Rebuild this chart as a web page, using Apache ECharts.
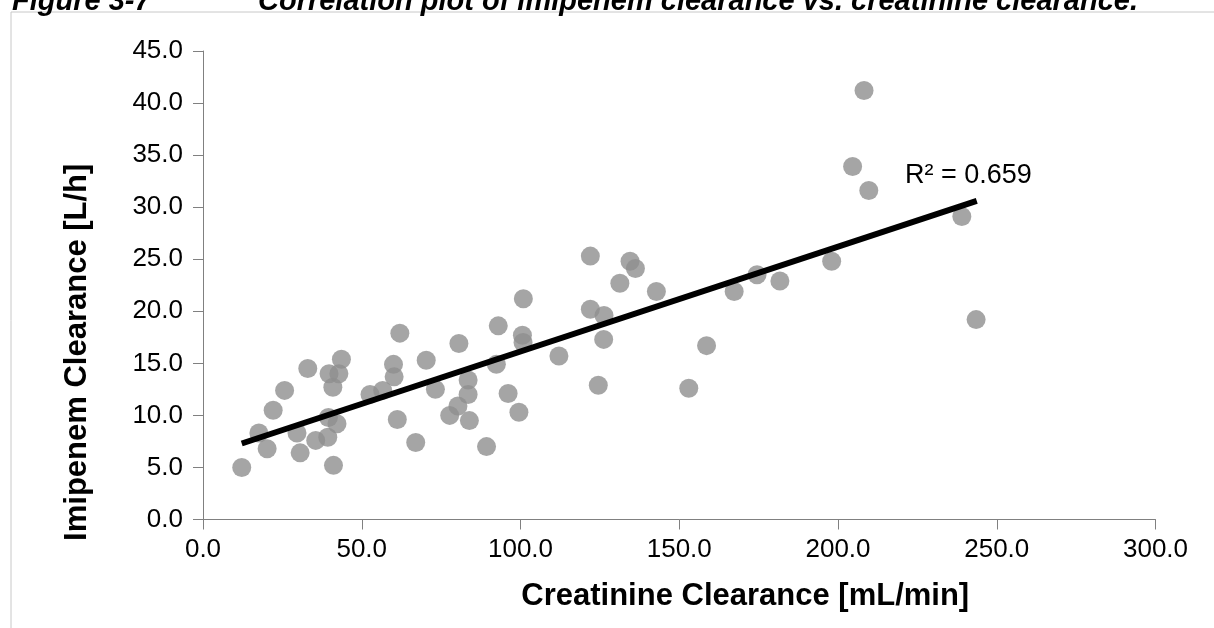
<!DOCTYPE html>
<html>
<head>
<meta charset="utf-8">
<script src="https://cdn.jsdelivr.net/npm/echarts@6/dist/echarts.min.js"></script>
<style>
html,body{margin:0;padding:0;background:#fff;}
#chart{width:1214px;height:628px;}
</style>
</head>
<body>
<div id="chart"></div>
<script>
// Creatinine clearance [mL/min]
const crcl = [12.2,17.6,20.2,22.1,25.7,29.6,30.6,33.0,35.5,39.3,39.7,39.5,40.9,41.1,42.2,42.8,43.6,
  52.6,56.6,60.0,60.2,61.2,62.0,67.0,70.3,73.2,77.7,80.6,80.3,83.5,83.5,83.9,89.3,92.4,93.0,96.1,99.5,
  100.6,100.8,100.9,112.1,122.0,134.5,136.2,131.3,142.8,122.0,126.3,126.2,124.5,153.0,158.6,167.3,
  174.5,181.7,198.0,208.2,204.6,209.7,239.0,243.5];
// Imipenem clearance [L/h]
const imcl = [5.0,8.3,6.8,10.5,12.4,8.3,6.4,14.5,7.6,7.9,14.0,9.8,12.7,5.2,9.2,14.0,15.4,
  12.0,12.4,14.9,13.7,9.6,17.9,7.4,15.3,12.5,10.0,16.9,10.9,13.4,12.0,9.5,7.0,14.9,18.6,12.1,10.3,
  17.7,17.0,21.2,15.7,25.3,24.8,24.1,22.7,21.9,20.2,19.6,17.3,12.9,12.6,16.7,21.9,
  23.5,22.9,24.8,41.2,33.9,31.6,29.1,19.2];
// Linear trend line end points (as drawn)
const trendX = [12.2, 243.7];
const trendY = [7.3, 30.6];
const r2Text = 'R² = 0.659';
const titleFig = 'Figure 3-7';
const titleText = 'Correlation plot of imipenem clearance vs. creatinine clearance.';
const xName = 'Creatinine Clearance [mL/min]';
const yName = 'Imipenem Clearance [L/h]';

const points = crcl.map((x, i) => [x, imcl[i]]);
const trend = trendX.map((x, i) => [x, trendY[i]]);

const chart = echarts.init(document.getElementById('chart'), null, {renderer: 'canvas'});
const FONT = '"Liberation Sans", Arial, sans-serif';
chart.setOption({
  animation: false,
  backgroundColor: '#ffffff',
  grid: {left: 203, right: 58.5, top: 51, bottom: 108.5},
  xAxis: {
    type: 'value', min: 0, max: 300, interval: 50,
    name: xName, nameLocation: 'middle', nameGap: 61,
    nameTextStyle: {fontFamily: FONT, fontSize: 31, fontWeight: 'bold', color: '#000', padding: [0, 0, 0, 132]},
    axisLine: {show: true, lineStyle: {color: '#808080', width: 1}},
    axisTick: {show: true, length: 10, lineStyle: {color: '#808080'}},
    splitLine: {show: false},
    axisLabel: {fontFamily: FONT, fontSize: 26, color: '#000', margin: 17, formatter: v => v.toFixed(1)}
  },
  yAxis: {
    type: 'value', min: 0, max: 45, interval: 5,
    name: yName, nameLocation: 'middle', nameGap: 110, nameRotate: 90,
    nameTextStyle: {fontFamily: FONT, fontSize: 31, fontWeight: 'bold', color: '#000', padding: [0, 134, 0, 0]},
    axisLine: {show: true, lineStyle: {color: '#808080', width: 1}},
    axisTick: {show: true, length: 10, lineStyle: {color: '#808080'}},
    splitLine: {show: false},
    axisLabel: {fontFamily: FONT, fontSize: 26, color: '#000', margin: 20, formatter: v => v.toFixed(1)}
  },
  series: [
    {
      type: 'scatter', data: points, symbol: 'circle', symbolSize: 19,
      itemStyle: {color: '#8e8e8e'}, z: 2
    },
    {
      type: 'line', data: trend, symbol: 'none', lineStyle: {color: '#000', width: 6}, z: 3,
      silent: true
    }
  ],
  graphic: [
    {type: 'rect', shape: {x: 11, y: 12, width: 1300, height: 700}, style: {fill: 'none', stroke: '#c8c8c8', lineWidth: 1}, z: -1},
    {type: 'text', x: 12, y: 16, style: {text: titleFig, font: 'italic bold 29px "Liberation Sans", Arial, sans-serif', fill: '#000', textVerticalAlign: 'bottom'}},
    {type: 'text', x: 258, y: 16, style: {text: titleText, font: 'italic bold 29px "Liberation Sans", Arial, sans-serif', fill: '#000', textVerticalAlign: 'bottom'}},
    {type: 'text', x: 905, y: 176, style: {text: r2Text, font: '27px "Liberation Sans", Arial, sans-serif', fill: '#000', textVerticalAlign: 'middle'}}
  ]
});
</script>
</body>
</html>
